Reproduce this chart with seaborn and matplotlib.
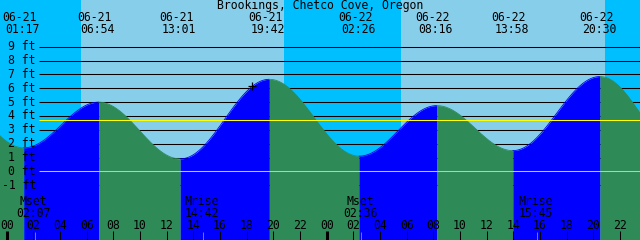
import numpy as np
import pandas as pd
import matplotlib
matplotlib.use("Agg")
import matplotlib.pyplot as plt
from matplotlib.transforms import blended_transform_factory
import seaborn as sns

# ---------------- data ----------------
title = "Brookings, Chetco Cove, Oregon"

tide_dates = ["06-21", "06-21", "06-21", "06-21", "06-22", "06-22", "06-22", "06-22"]
tide_times = ["01:17", "06:54", "13:01", "19:42", "02:26", "08:16", "13:58", "20:30"]
tide_day = [0, 0, 0, 0, 1, 1, 1, 1]
tide_heights = [1.7, 5.0, 0.9, 6.65, 1.1, 4.75, 1.5, 6.85]

# extrema just outside the window (estimated from the curve at the edges)
prev_extreme = (-5.1, 6.5)
next_extreme = (50.75, 1.2)

sun_times = ["05:34", "20:48", "05:35", "20:52"]   # sunrise, sunset, sunrise, sunset
sun_day = [0, 0, 1, 1]

moon_events = ["Mset", "Mrise", "Mset", "Mrise"]
moon_times = ["02:07", "14:42", "02:36", "15:45"]
moon_day = [0, 0, 1, 1]

ft_levels = [9, 8, 7, 6, 5, 4, 3, 2, 1, 0, -1]
mean_level = 3.68
now_hour, now_height = 18.42, 6.2

hour_ticks = list(range(0, 50, 2))
hour_labels = [f"{h % 24:02d}" for h in hour_ticks]

# ---------------- helpers ----------------
def to_hours(t, day):
    h, m = t.split(":")
    return 24 * day + int(h) + int(m) / 60.0

tide_hours = [to_hours(t, d) for t, d in zip(tide_times, tide_day)]
sun_hours = [to_hours(t, d) for t, d in zip(sun_times, sun_day)]
moon_hours = [to_hours(t, d) for t, d in zip(moon_times, moon_day)]

ext_h = [prev_extreme[0]] + tide_hours + [next_extreme[0]]
ext_v = [prev_extreme[1]] + tide_heights + [next_extreme[1]]

rows = []
for i in range(len(ext_h) - 1):
    t0, t1 = ext_h[i], ext_h[i + 1]
    v0, v1 = ext_v[i], ext_v[i + 1]
    tt = np.linspace(t0, t1, 120)
    vv = v1 + (v0 - v1) * (1 + np.cos(np.pi * (tt - t0) / (t1 - t0))) / 2
    phase = "rise" if v1 > v0 else "fall"
    for a, b in zip(tt, vv):
        rows.append((a, b, i, phase))
curve = pd.DataFrame(rows, columns=["hour", "height", "seg", "phase"])

# ---------------- figure ----------------
sns.set_theme(style="white")
plt.rcParams["font.family"] = ["DejaVu Sans Mono", "DejaVu Sans"]
FS = 8.3

NIGHT = "#00BFFF"
DAY = "#87CEEB"
RISE = "#0000FF"
FALL = "#2E8B57"

fig = plt.figure(figsize=(6.4, 2.4), dpi=100)
ax = fig.add_axes([0, 0, 1, 1])
XL = (-0.5, 47.5)
YL = (-4.96, 12.38)

# day / night background
edges = [XL[0]] + sun_hours + [XL[1]]
for i in range(len(edges) - 1):
    ax.axvspan(edges[i], edges[i + 1], color=NIGHT if i % 2 == 0 else DAY, lw=0, zorder=0)

# grid lines (under the tide)
grid_x0 = (39 - 6.67) / 13.333
ax.hlines(ft_levels, grid_x0, XL[1], color="black", lw=0.75, zorder=1)

# tide fill
palette = {s: (RISE if p == "rise" else FALL)
           for s, p in curve.groupby("seg")["phase"].first().items()}
for s, g in curve.groupby("seg"):
    ax.fill_between(g["hour"], g["height"], YL[0], color=palette[s], lw=0, zorder=2)
sns.lineplot(data=curve, x="hour", y="height", hue="seg", palette=palette,
             legend=False, lw=0.6, ax=ax, zorder=3)
ax.set_xlim(*XL)
ax.set_ylim(*YL)
ax.axis("off")

# datum & mean lines
ax.hlines([0], grid_x0, XL[1], color="#9AD4E8", lw=0.75, zorder=4)
ax.hlines([mean_level], grid_x0, XL[1], color="#FFFF00", lw=0.75, zorder=4)

# current time marker
ax.plot([now_hour], [now_height], marker="+", color="black", ms=6, mew=0.9, zorder=5)

# y labels
ty = blended_transform_factory(ax.transAxes, ax.transData)
for lv in ft_levels:
    ax.text(36 / 640, lv, f"{lv} ft", transform=ty, ha="right", va="center",
            fontsize=FS, color="black", zorder=6)

# title and event labels
tx = blended_transform_factory(ax.transData, ax.transAxes)
ax.text(0.5, 1 - 5.5 / 240, title, transform=ax.transAxes, ha="center", va="center",
        fontsize=FS, color="black", zorder=6)
for h, d, t in zip(tide_hours, tide_dates, tide_times):
    ax.text(h - 0.3, 1 - 17.3 / 240, d, transform=tx, ha="center", va="center",
            fontsize=FS, color="black", zorder=6)
    ax.text(h - 0.08, 1 - 29.5 / 240, t, transform=tx, ha="center", va="center",
            fontsize=FS, color="black", zorder=6)

# moon labels
for h, ev, t in zip(moon_hours, moon_events, moon_times):
    ax.text(h - 0.1, 1 - 201.7 / 240, ev, transform=tx, ha="center", va="center",
            fontsize=FS, color="black", zorder=6)
    ax.text(h - 0.1, 1 - 213.3 / 240, t, transform=tx, ha="center", va="center",
            fontsize=FS, color="black", zorder=6)
    ax.vlines(h, 0, 1 - 232 / 240, transform=tx, color="#808080", lw=0.7, zorder=6)

# hour ticks and labels
for h, lab in zip(hour_ticks, hour_labels):
    ax.vlines(h, 0, 1 - 231 / 240, transform=tx, color="black",
              lw=2.2 if h % 24 == 0 else 0.75, zorder=7)
    ax.text(h, 1 - 225.5 / 240, lab, transform=tx, ha="center", va="center",
            fontsize=FS, color="black", zorder=7, clip_on=False)

fig.savefig("out.png", dpi=100)
